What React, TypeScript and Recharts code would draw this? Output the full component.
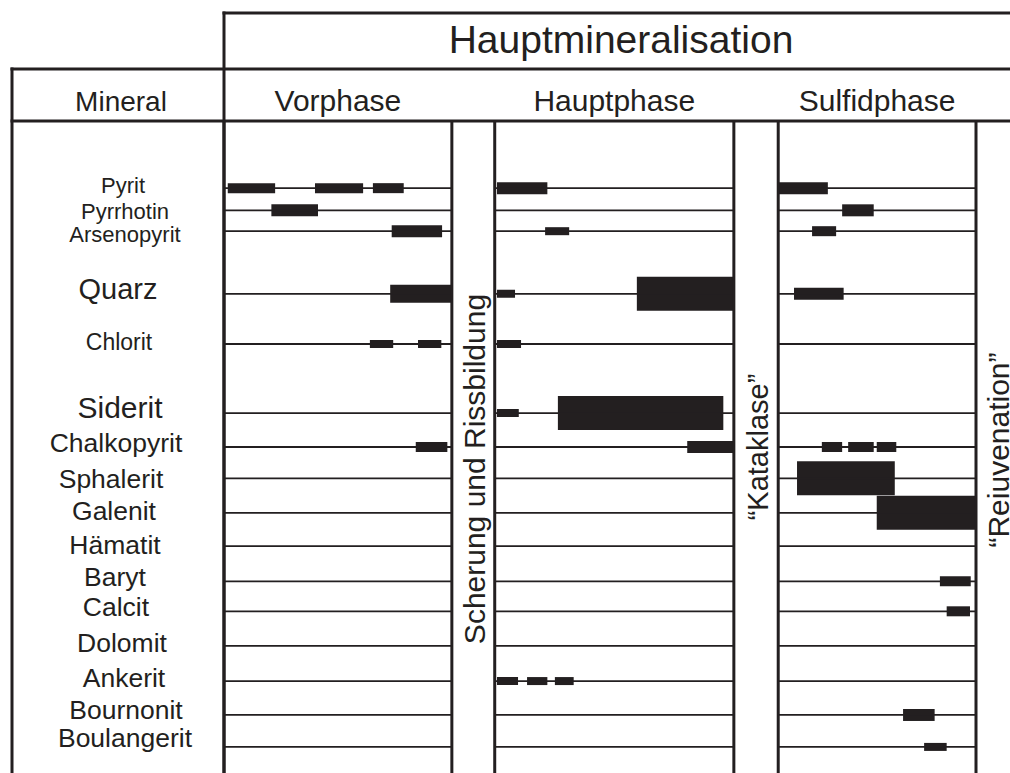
import React from 'react';
import { ComposedChart, Line, XAxis, YAxis, ReferenceLine, ReferenceArea } from 'recharts';

// Minerals (rows, top to bottom) and their row position on a 0-100 scale
const MINERALS = [
    'Pyrit', 'Pyrrhotin', 'Arsenopyrit', 'Quarz', 'Chlorit', 'Siderit', 'Chalkopyrit', 'Sphalerit',
    'Galenit', 'Hämatit', 'Baryt', 'Calcit', 'Dolomit', 'Ankerit', 'Bournonit', 'Boulangerit',
];
const ROW_POS = [10.3, 13.7, 16.9, 26.5, 34.2, 44.8, 50.0, 54.8, 60.1, 65.2, 70.6, 75.2, 80.5, 85.9, 91.1, 96.0];

// Phases on a relative time axis 0-100
const PHASES = ['Vorphase', 'Hauptphase', 'Sulfidphase'];
const PHASE_START = [0, 36.0, 73.7];
const PHASE_END = [30.3, 67.8, 100];

// Events between / after the phases
const EVENTS = ['Scherung und Rissbildung', '\u201CKataklase\u201D', '\u201CReiuvenation\u201D'];

// [mineral, from, to, abundance level 1-5]
const BARS: [string, number, number, number][] = [
    ['Pyrit', 0.5, 6.8, 2], ['Pyrit', 12.1, 18.5, 2], ['Pyrit', 19.8, 23.9, 2], ['Pyrit', 36.3, 43.0, 3], ['Pyrit', 73.7, 80.3, 3],
    ['Pyrrhotin', 6.3, 12.5, 3], ['Pyrrhotin', 82.2, 86.4, 3],
    ['Arsenopyrit', 22.3, 29.0, 3], ['Arsenopyrit', 42.7, 45.9, 1], ['Arsenopyrit', 78.2, 81.4, 2],
    ['Quarz', 22.1, 30.3, 4], ['Quarz', 36.3, 38.7, 1], ['Quarz', 54.9, 67.8, 5], ['Quarz', 75.8, 82.4, 3],
    ['Chlorit', 19.4, 22.5, 1], ['Chlorit', 25.8, 28.9, 1], ['Chlorit', 36.3, 39.5, 1],
    ['Siderit', 36.3, 39.2, 1], ['Siderit', 44.4, 66.4, 5],
    ['Chalkopyrit', 25.5, 29.7, 2], ['Chalkopyrit', 61.6, 67.8, 3], ['Chalkopyrit', 79.5, 82.2, 2],
    ['Chalkopyrit', 83.0, 86.4, 2], ['Chalkopyrit', 86.8, 89.4, 2],
    ['Sphalerit', 76.2, 89.2, 5],
    ['Galenit', 86.8, 100, 5],
    ['Baryt', 95.2, 99.3, 2],
    ['Calcit', 96.1, 99.2, 2],
    ['Ankerit', 36.3, 39.1, 1], ['Ankerit', 40.3, 43.0, 1], ['Ankerit', 44.0, 46.5, 1],
    ['Bournonit', 90.3, 94.5, 3],
    ['Boulangerit', 93.1, 96.1, 1],
];

const W = 1010;
const H = 773;
const MARGIN = { top: 69, right: 34, bottom: 0, left: 12 };
const YAXIS_W = 212;
const XAXIS_H = 52;
const PLOT_LEFT = MARGIN.left + YAXIS_W;
const PLOT_TOP = MARGIN.top + XAXIS_H;
const PLOT_W = W - PLOT_LEFT - MARGIN.right;
const PLOT_H = H - PLOT_TOP - MARGIN.bottom;
const INK = '#231f20';
const FONT = '"Liberation Sans", Arial, sans-serif';

// half bar thickness in px per abundance level
const HALF_PX: Record<number, number> = { 1: 4, 2: 5, 3: 6, 4: 9, 5: 17 };

// label styling (font size, horizontal nudge, baseline offset from row line)
const LABEL_SIZE: Record<string, number> = {
    Pyrit: 22, Pyrrhotin: 22, Arsenopyrit: 22, Quarz: 29, Chlorit: 23, Siderit: 30,
};
const LABEL_DX: Record<string, number> = {
    Pyrit: 3, Pyrrhotin: 5, Arsenopyrit: 5, Quarz: -2, Chlorit: -1, Siderit: 0, Chalkopyrit: -4, Sphalerit: -9,
    Galenit: -6, 'Hämatit': -5, Baryt: -5, Calcit: -4, Dolomit: 2, Ankerit: 4, Bournonit: 6, Boulangerit: 5,
};
const LABEL_DY: Record<string, number> = {
    Pyrit: 5, Pyrrhotin: 9, Arsenopyrit: 11, Quarz: 5, Chlorit: 6, Siderit: 5, Chalkopyrit: 5, Sphalerit: 10,
    Galenit: 7, 'Hämatit': 8, Baryt: 5, Calcit: 5, Dolomit: 6, Ankerit: 6, Bournonit: 4, Boulangerit: 0,
};

const PHASE_MID = PHASES.map((_, i) => (PHASE_START[i] + PHASE_END[i]) / 2);
const toPx = (u: number) => PLOT_LEFT + (u * PLOT_W) / 100;
const EVENT_X = [
    (PHASE_END[0] + PHASE_START[1]) / 2,
    (PHASE_END[1] + PHASE_START[2]) / 2,
    PHASE_END[2] + (PHASE_START[1] - PHASE_END[0]) / 2,
];
const EVENT_Y = [469, 447, 450];
const EVENT_SIZE = [30, 29, 30];

const rowData = (r: number) =>
    PHASES.flatMap((_, i) => [
        { x: PHASE_START[i], y: r },
        { x: PHASE_END[i], y: r },
        { x: PHASE_END[i], y: null },
    ]);

const MineralTick = (props: any) => {
    const i = ROW_POS.indexOf(props.payload.value);
    const name = MINERALS[i];
    return (
        <text x={120 + (LABEL_DX[name] || 0)} y={props.y + (LABEL_DY[name] ?? 6)} textAnchor="middle"
            fontSize={LABEL_SIZE[name] || 26.5} fill={INK} fontFamily={FONT}>
            {name}
        </text>
    );
};

const PhaseTick = (props: any) => {
    const i = PHASE_MID.indexOf(props.payload.value);
    return (
        <text x={props.x} y={111} textAnchor="middle" fontSize={30} fill={INK} fontFamily={FONT}>
            {PHASES[i]}
        </text>
    );
};

const App = () => {
    const unit = PLOT_H / 100;
    return (
        <div style={{ position: 'absolute', left: 0, top: 0, width: W, height: H, background: '#fff' }}>
            <ComposedChart width={W} height={H} margin={MARGIN}>
                <XAxis type="number" dataKey="x" domain={[0, 100]} orientation="top" height={XAXIS_H}
                    ticks={PHASE_MID} interval={0} axisLine={false} tickLine={false} tick={(p: any) => <PhaseTick {...p} />} />
                <YAxis type="number" dataKey="y" domain={[0, 100]} reversed width={YAXIS_W}
                    ticks={ROW_POS} interval={0} axisLine={false} tickLine={false} tick={(p: any) => <MineralTick {...p} />} />

                {/* row lines per phase */}
                {ROW_POS.map((r, i) => (
                    <Line key={`row-${i}`} data={rowData(r)} dataKey="y" stroke={INK} strokeWidth={1.8}
                        dot={false} activeDot={false} isAnimationActive={false} connectNulls={false} />
                ))}

                {/* phase boundaries */}
                {[...PHASE_START, ...PHASE_END].map((x, i) => (
                    <ReferenceLine key={`pb-${i}`} x={x} stroke={INK} strokeWidth={3} />
                ))}

                {/* abundance bars */}
                {BARS.map(([m, from, to, lvl], i) => {
                    const r = ROW_POS[MINERALS.indexOf(m)];
                    const h = HALF_PX[lvl] / unit;
                    return (
                        <ReferenceArea key={`bar-${i}`} x1={from} x2={to} y1={r - h} y2={r + h}
                            fill={INK} fillOpacity={1} stroke="none" />
                    );
                })}

                {/* frame */}
                <g stroke={INK} strokeWidth={3} fill="none" strokeLinecap="square">
                    <line x1={PLOT_LEFT} y1={13} x2={W + 2} y2={13} />
                    <line x1={MARGIN.left} y1={MARGIN.top} x2={W + 2} y2={MARGIN.top} />
                    <line x1={MARGIN.left} y1={PLOT_TOP} x2={W + 2} y2={PLOT_TOP} />
                    <line x1={MARGIN.left} y1={MARGIN.top} x2={MARGIN.left} y2={H + 2} />
                    <line x1={PLOT_LEFT} y1={13} x2={PLOT_LEFT} y2={H + 2} />
                </g>

                <text x={621} y={53} textAnchor="middle" fontSize={39} fill={INK} fontFamily={FONT}>Hauptmineralisation</text>
                <text x={121} y={111} textAnchor="middle" fontSize={28} fill={INK} fontFamily={FONT}>Mineral</text>

                {EVENTS.map((t, i) => {
                    const x = toPx(EVENT_X[i]) + 12;
                    const y = EVENT_Y[i];
                    return (
                        <text key={`ev-${i}`} x={x} y={y} transform={`rotate(-90 ${x} ${y})`} textAnchor="middle"
                            fontSize={EVENT_SIZE[i]} fill={INK} fontFamily={FONT}>{t}</text>
                    );
                })}
            </ComposedChart>
        </div>
    );
};

export default App;
